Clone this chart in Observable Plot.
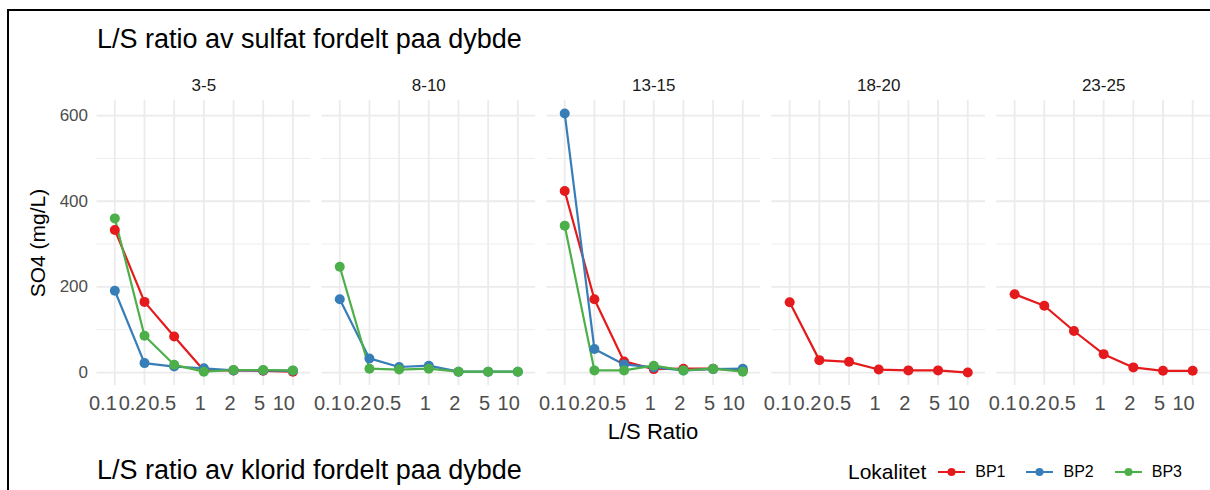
<!DOCTYPE html>
<html>
<head>
<meta charset="utf-8">
<script src="https://cdn.jsdelivr.net/npm/d3@7"></script>
<script src="https://cdn.jsdelivr.net/npm/@observablehq/plot@0.6"></script>
<style>
  html, body { margin: 0; padding: 0; background: #fff; }
  body { width: 1210px; height: 490px; position: relative; overflow: hidden;
         font-family: "Liberation Sans", Arial, Helvetica, sans-serif; }
  .border-left { position: absolute; left: 7px; top: 9px; width: 2px; height: 481px; background: #000; }
  .border-top { position: absolute; left: 7px; top: 9px; width: 1203px; height: 2px; background: #000; }
  .title { position: absolute; left: 97px; font-size: 27px; color: #000; white-space: nowrap; line-height: 1; }
  #chart { position: absolute; left: 0; top: 60px; }
  .ylab { position: absolute; left: 37px; top: 243px; font-size: 21px; color: #000;
          transform: translate(-50%, -50%) rotate(-90deg); white-space: nowrap; line-height: 1; }
  .xlab { position: absolute; left: 653px; top: 432px; font-size: 22px; color: #000;
          transform: translate(-50%, -50%); white-space: nowrap; line-height: 1; }
  .legend { position: absolute; left: 848px; top: 472px; transform: translateY(-50%);
            display: flex; align-items: center; white-space: nowrap; }
  .legend .lt { font-size: 21px; color: #000; margin-right: 12px; }
  .legend .item { display: flex; align-items: center; margin-right: 21px; }
  .legend .item span { font-size: 16px; color: #000; margin-left: 10px; }
</style>
</head>
<body>
<div class="border-left"></div>
<div class="border-top"></div>
<div class="title" id="t1" style="top:26px">L/S ratio av sulfat fordelt paa dybde</div>
<div id="chart"></div>
<div class="ylab">SO4 (mg/L)</div>
<div class="xlab">L/S Ratio</div>
<div class="title" id="t2" style="top:457px">L/S ratio av klorid fordelt paa dybde</div>
<div class="legend" id="legend"></div>
<script>
// ---- data ----
const depths = ["3-5", "8-10", "13-15", "18-20", "23-25"];
const ratios = ["0.1", "0.2", "0.5", "1", "2", "5", "10"];
const lokaliteter = ["BP1", "BP2", "BP3"];
const colors = ["#E41A1C", "#377EB8", "#4DAF4A"];
const yTicks = [0, 200, 400, 600];
const yMinor = [100, 300, 500];

// SO4 (mg/L) per depth, one array per depth (null = no samples)
const bp1 = [
  [333, 165, 84, 5, 5, 4, 2],
  null,
  [424, 171, 26, 8, 9, 9, 5],
  [164, 29, 25, 7, 5, 5, 0],
  [183, 156, 97, 43, 12, 4, 4]
];
const bp2 = [
  [191, 22, 14, 10, 5, 5, 4],
  [171, 33, 13, 16, 2, 2, 2],
  [605, 55, 19, 12, 5, 8, 9],
  null,
  null
];
const bp3 = [
  [360, 86, 18, 2, 6, 6, 5],
  [247, 9, 7, 9, 2, 2, 2],
  [343, 5, 5, 16, 5, 9, 2],
  null,
  null
];

// ---- build table ----
const series = {BP1: bp1, BP2: bp2, BP3: bp3};
const rows = [];
for (const lok of lokaliteter) {
  series[lok].forEach((vals, di) => {
    if (!vals) return;
    vals.forEach((v, ri) => rows.push({depth: depths[di], ratio: ratios[ri], value: v, lok}));
  });
}

const chart = Plot.plot({
  width: 1210,
  height: 390,
  marginLeft: 96.5,
  marginRight: 0,
  marginTop: 40,
  marginBottom: 65,
  style: {fontFamily: '"Liberation Sans", Arial, Helvetica, sans-serif', background: "transparent", overflow: "visible"},
  fx: {domain: depths, paddingInner: 0.05, paddingOuter: 0, round: false, label: null},
  x: {type: "point", domain: ratios, padding: 0.6, round: false, label: null},
  y: {domain: [-30.25, 635.25], label: null},
  color: {domain: lokaliteter, range: colors},
  marks: [
    Plot.ruleY(yMinor, {stroke: "#ededed", strokeWidth: 1}),
    Plot.ruleY(yTicks, {stroke: "#ebebeb", strokeWidth: 1.8}),
    Plot.ruleX(ratios, {stroke: "#ebebeb", strokeWidth: 1.8}),
    Plot.line(rows, {fx: "depth", x: "ratio", y: "value", z: "lok", stroke: "lok", strokeWidth: 2.2}),
    Plot.dot(rows, {fx: "depth", x: "ratio", y: "value", fill: "lok", r: 5}),
    Plot.axisY({ticks: yTicks, tickSize: 0, tickPadding: 9, fontSize: 17, color: "#4d4d4d", label: null}),
    Plot.axisX({tickSize: 0, tickPadding: 10, textAnchor: "end", dx: 2, fontSize: 20, color: "#4d4d4d", label: null}),
    Plot.axisFx({anchor: "top", tickSize: 0, tickPadding: 10, fontSize: 17, color: "#1a1a1a", label: null})
  ]
});
document.getElementById("chart").appendChild(chart);

// ---- legend ----
const legend = document.getElementById("legend");
const lt = document.createElement("div");
lt.className = "lt";
lt.textContent = "Lokalitet";
legend.appendChild(lt);
lokaliteter.forEach((lok, i) => {
  const item = document.createElement("div");
  item.className = "item";
  item.innerHTML = `<svg width="27" height="12"><line x1="0" x2="27" y1="6" y2="6" stroke="${colors[i]}" stroke-width="2"/><circle cx="13.5" cy="6" r="4" fill="${colors[i]}"/></svg><span>${lok}</span>`;
  legend.appendChild(item);
});
</script>
</body>
</html>
